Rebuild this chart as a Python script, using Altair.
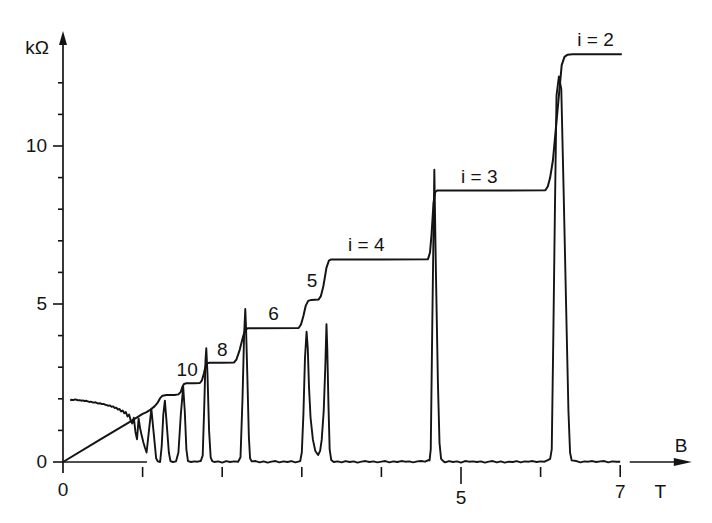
import altair as alt
import pandas as pd

# ---------------- data ----------------
# Hall resistance R_H (kOhm) against magnetic field B (T)
hall_B = [0.00, 0.46, 0.84, 1.00, 1.05, 1.10, 1.15, 1.19, 1.22, 1.25, 1.30, 1.40, 1.45, 1.48,
          1.50, 1.52, 1.55, 1.65, 1.72, 1.745, 1.77, 1.79, 1.81, 1.84, 2.00, 2.15, 2.18, 2.22,
          2.26, 2.29, 2.32, 2.40, 2.96, 2.99, 3.02, 3.05, 3.08, 3.12, 3.21, 3.24, 3.27, 3.31,
          3.34, 3.37, 4.00, 4.585, 4.61, 4.63, 4.655, 4.675, 4.70, 5.50, 6.06, 6.09, 6.12,
          6.155, 6.265, 6.30, 6.34, 6.40, 7.02]
hall_R = [0.00, 0.70, 1.27, 1.52, 1.58, 1.66, 1.76, 1.88, 2.02, 2.10, 2.12, 2.12, 2.14, 2.22,
          2.38, 2.47, 2.49, 2.49, 2.50, 2.58, 2.80, 3.02, 3.12, 3.14, 3.14, 3.15, 3.25, 3.55,
          3.95, 4.18, 4.23, 4.23, 4.24, 4.35, 4.62, 4.95, 5.10, 5.13, 5.14, 5.25, 5.55, 6.15,
          6.37, 6.41, 6.41, 6.42, 6.62, 7.20, 8.20, 8.54, 8.59, 8.59, 8.60, 8.72, 9.00,
          9.55, 12.56, 12.82, 12.89, 12.90, 12.90]

# longitudinal resistance (kOhm scale of the figure) against B (T)
rxx_B = [0.09, 0.11, 0.13, 0.15, 0.17, 0.19, 0.21, 0.23, 0.25, 0.27, 0.29, 0.31, 0.33, 0.35,
         0.37, 0.39, 0.41, 0.43, 0.45, 0.47, 0.49, 0.51, 0.53, 0.55, 0.57, 0.59, 0.61, 0.63,
         0.65, 0.67, 0.69, 0.71, 0.73, 0.75, 0.77, 0.79, 0.81, 0.83, 0.85,
         0.87, 0.89, 0.91, 0.93, 0.95, 0.97, 0.99, 1.01, 1.03, 1.05,
         1.08, 1.11, 1.14, 1.17, 1.19, 1.22, 1.24, 1.26, 1.28, 1.30, 1.33, 1.35, 1.38, 1.42,
         1.45, 1.48, 1.51, 1.53, 1.55, 1.57, 1.61, 1.65, 1.69, 1.73, 1.755, 1.775, 1.79, 1.80,
         1.815, 1.835, 1.855, 1.875,
         1.90, 1.95, 2.00, 2.05, 2.10, 2.15, 2.20, 2.23, 2.255, 2.275, 2.29, 2.30, 2.315,
         2.335, 2.35, 2.37, 2.42, 2.47, 2.52, 2.57, 2.62, 2.67, 2.72, 2.77, 2.82, 2.87, 2.92,
         2.98, 3.00, 3.02, 3.04, 3.06, 3.075, 3.09, 3.11, 3.14, 3.17, 3.205, 3.23, 3.25,
         3.275, 3.295, 3.31, 3.32, 3.335, 3.35, 3.37, 3.40,
         3.45, 3.50, 3.55, 3.60, 3.65, 3.70, 3.75, 3.80, 3.85, 3.90, 3.95, 4.00, 4.05, 4.10,
         4.15, 4.20, 4.25, 4.30, 4.35, 4.40, 4.45, 4.50, 4.55, 4.59, 4.605, 4.62, 4.64, 4.665,
         4.685, 4.71, 4.73, 4.75, 4.78,
         4.80, 4.85, 4.90, 4.95, 5.00, 5.05, 5.10, 5.15, 5.20, 5.25, 5.30, 5.35, 5.40, 5.45,
         5.50, 5.55, 5.60, 5.65, 5.70, 5.75, 5.80, 5.85, 5.90, 5.95, 6.00, 6.05, 6.09, 6.12,
         6.14, 6.16, 6.18, 6.20, 6.23, 6.26, 6.29, 6.32, 6.35, 6.37, 6.39,
         6.45, 6.50, 6.55, 6.60, 6.65, 6.70, 6.75, 6.80, 6.85, 6.90, 6.95, 7.00]
rxx_R = [1.95, 1.97, 1.96, 1.98, 1.97, 1.95, 1.96, 1.94, 1.95, 1.93, 1.94, 1.92, 1.90, 1.91,
         1.89, 1.88, 1.89, 1.86, 1.85, 1.86, 1.83, 1.84, 1.81, 1.80, 1.78, 1.79, 1.75, 1.76,
         1.71, 1.72, 1.66, 1.68, 1.60, 1.63, 1.54, 1.58, 1.44, 1.50, 1.32,
         1.22, 1.40, 0.95, 0.72, 1.38, 1.05, 0.82, 0.62, 0.45, 0.30,
         1.00, 1.68, 0.90, 0.12, 0.02, 0.00, 0.50, 1.50, 1.94, 1.30, 0.30, 0.03, 0.00, 0.02,
         0.30, 1.50, 2.38, 1.60, 0.40, 0.03, 0.00, 0.02, 0.01, 0.03, 0.20, 1.80, 3.20, 3.60,
         2.80, 1.00, 0.15, 0.03,
         0.00, 0.02, -0.02, 0.03, 0.00, 0.02, 0.01, 0.15, 2.00, 4.00, 4.84, 4.20, 2.80,
         0.80, 0.12, 0.02, 0.03, -0.01, 0.02, -0.02, 0.01, 0.03, -0.01, 0.02, 0.00, 0.03, -0.01,
         0.03, 0.30, 1.50, 3.30, 4.12, 3.60, 2.40, 1.40, 0.70, 0.35, 0.22, 0.35, 0.70,
         1.60, 3.00, 4.36, 3.60, 1.80, 0.40, 0.06, 0.00,
         0.02, -0.01, 0.03, 0.00, 0.02, -0.02, 0.01, 0.03, 0.00, 0.02, -0.01, 0.01, 0.03, -0.01,
         0.02, 0.00, 0.03, 0.01, 0.02, -0.01, 0.02, 0.03, 0.01, 0.06, 0.05, 0.40, 4.50, 9.25,
         6.00, 2.50, 0.60, 0.10, 0.02,
         -0.01, 0.03, 0.00, 0.02, -0.02, 0.03, 0.01, 0.02, 0.00, 0.02, -0.02, 0.01, 0.03, -0.01,
         0.02, -0.02, 0.01, 0.00, 0.03, -0.01, 0.02, 0.01, 0.03, 0.00, 0.02, 0.01, 0.06, 0.10,
         0.40, 4.00, 8.00, 11.60, 12.20, 11.80, 8.50, 5.00, 1.60, 0.30, 0.05,
         0.03, -0.01, 0.02, 0.01, 0.03, 0.00, 0.02, 0.03, -0.01, 0.02, 0.01, 0.01]

# plateau annotations
plateau_text = ["10", "8", "6", "5", "i = 4", "i = 3", "i = 2"]
plateau_B = [1.56, 2.00, 2.645, 3.13, 3.81, 5.23, 6.69]
plateau_R = [2.91, 3.56, 4.68, 5.73, 6.88, 9.03, 13.37]

# axes
y_major = [0, 5, 10]
y_major_labels = ["0", "5", "10"]
y_minor = [1, 2, 3, 4, 6, 7, 8, 9, 11, 12]
x_ticks_short = [1, 2, 3, 4, 6]
x_tick_long = [5]
x_tick_end = [7]
x_labels = ["0", "5", "7"]
x_label_values = [0, 5, 7]
y_title = "kΩ"
x_title_top = "B"
x_title_bottom = "T"

# axis geometry in data units
y_axis_top = 13.3       # end of y axis line (below arrowhead)
y_arrow_tip = 13.64
x_axis_end = 1.055      # short visible part of the x axis line
x_arrow_start = 7.12
x_arrow_tip = 7.90

# ---------------- layout ----------------
W, H = 690, 500
PX_T, PX_K = 79.6, 31.6          # px per tesla, px per kOhm
ORIGIN_X, ORIGIN_Y = 63 - 8, 462 - 8   # origin inside the plot area
x_dom = [-ORIGIN_X / PX_T, (W - ORIGIN_X) / PX_T]
y_dom = [-(H - ORIGIN_Y) / PX_K, ORIGIN_Y / PX_K]

xs = alt.Scale(domain=x_dom, nice=False, zero=False)
ys = alt.Scale(domain=y_dom, nice=False, zero=False)
INK = "#141414"
FONT = "Liberation Sans"
FS = 19


def X(field="B"):
    return alt.X(f"{field}:Q", scale=xs, axis=None)


def Y(field="R"):
    return alt.Y(f"{field}:Q", scale=ys, axis=None)


def df(**cols):
    return pd.DataFrame({k: (v if isinstance(v, list) else [v]) for k, v in cols.items()})


hall = alt.Chart(df(B=hall_B, R=hall_R)).mark_line(
    color=INK, strokeWidth=2.0, strokeJoin="round").encode(x=X(), y=Y(), order="B:Q")
rxx = alt.Chart(df(B=rxx_B, R=rxx_R)).mark_line(
    color=INK, strokeWidth=1.9, strokeJoin="round").encode(x=X(), y=Y(), order="B:Q")

ann = alt.Chart(df(B=plateau_B, R=plateau_R, t=plateau_text)).mark_text(
    font=FONT, fontSize=FS, color=INK, align="center", baseline="middle").encode(
    x=X(), y=Y(), text="t:N")

# y axis line + arrow
y_line = alt.Chart(df(B=0, R=0, R2=y_axis_top)).mark_rule(
    color=INK, strokeWidth=1.7, yOffset=11).encode(x=X(), y=Y(), y2="R2:Q")
up_arrow = alt.Chart(df(B=0, R=y_arrow_tip)).mark_point(
    shape="M0,0 L0.4,1.4 L-0.4,1.4 Z", size=400, filled=True, color=INK, opacity=1,
    strokeWidth=0).encode(x=X(), y=Y())

# x axis pieces + arrow
x_line = alt.Chart(df(B=0, B2=x_axis_end, R=0)).mark_rule(
    color=INK, strokeWidth=1.7).encode(x=X(), x2="B2:Q", y=Y())
x_arrow_line = alt.Chart(df(B=x_arrow_start, B2=x_arrow_tip - 0.1, R=0)).mark_rule(
    color=INK, strokeWidth=1.7).encode(x=X(), x2="B2:Q", y=Y())
right_arrow = alt.Chart(df(B=x_arrow_tip, R=0)).mark_point(
    shape="M0,0 L-1.8,-0.4 L-1.8,0.4 Z", size=400, filled=True, color=INK, opacity=1,
    strokeWidth=0).encode(x=X(), y=Y())

# y ticks
y_major_ticks = alt.Chart(df(R=y_major, B=[0] * len(y_major))).mark_rule(
    color=INK, strokeWidth=1.6, xOffset=-10).encode(x=X(), x2="B:Q", y=Y())
y_minor_ticks = alt.Chart(df(R=y_minor, B=[0] * len(y_minor))).mark_rule(
    color=INK, strokeWidth=1.6, xOffset=-5).encode(x=X(), x2="B:Q", y=Y())
y_labels = alt.Chart(df(R=y_major, B=[0] * len(y_major), t=y_major_labels)).mark_text(
    font=FONT, fontSize=FS, color=INK, align="right", baseline="middle", dx=-16).encode(
    x=X(), y=Y(), text="t:N")


# x ticks
def xticks(vals, off1, off2):
    return alt.Chart(df(B=vals, R=[0] * len(vals))).mark_rule(
        color=INK, strokeWidth=1.6, yOffset=off1, y2Offset=off2).encode(
        x=X(), y=Y(), y2="R:Q")


x_t1 = xticks(x_ticks_short, 5, 15)
x_t2 = xticks(x_tick_long, 5, 22)
x_t3 = xticks(x_tick_end, 3, 15)

label_dy = {"0": 27.5, "5": 35.5, "7": 29.5}
x_lab_layers = []
for t, v in zip(x_labels, x_label_values):
    x_lab_layers.append(
        alt.Chart(df(B=v, R=0, t=t)).mark_text(
            font=FONT, fontSize=FS, color=INK, align="center", baseline="middle",
            dy=label_dy[t]).encode(x=X(), y=Y(), text="t:N"))

kohm = alt.Chart(df(B=0, R=13.1, t=y_title)).mark_text(
    font=FONT, fontSize=FS, color=INK, align="center", baseline="middle", dx=-26).encode(
    x=X(), y=Y(), text="t:N")
b_title = alt.Chart(df(B=7, R=0, t=x_title_top)).mark_text(
    font=FONT, fontSize=FS, color=INK, align="center", baseline="middle", dx=61, dy=-16.5).encode(
    x=X(), y=Y(), text="t:N")
t_title = alt.Chart(df(B=7, R=0, t=x_title_bottom)).mark_text(
    font=FONT, fontSize=FS, color=INK, align="center", baseline="middle", dx=40, dy=30).encode(
    x=X(), y=Y(), text="t:N")

chart = alt.layer(
    y_line, up_arrow, x_line, x_arrow_line, right_arrow,
    y_major_ticks, y_minor_ticks, y_labels, x_t1, x_t2, x_t3, *x_lab_layers,
    kohm, b_title, t_title, rxx, hall, ann
).properties(
    width=W, height=H, autosize=alt.AutoSizeParams(type="none"), padding=0,
    background="white"
).configure_view(stroke=None)

chart.save("out.html", embed_options={"renderer": "svg", "actions": False})
